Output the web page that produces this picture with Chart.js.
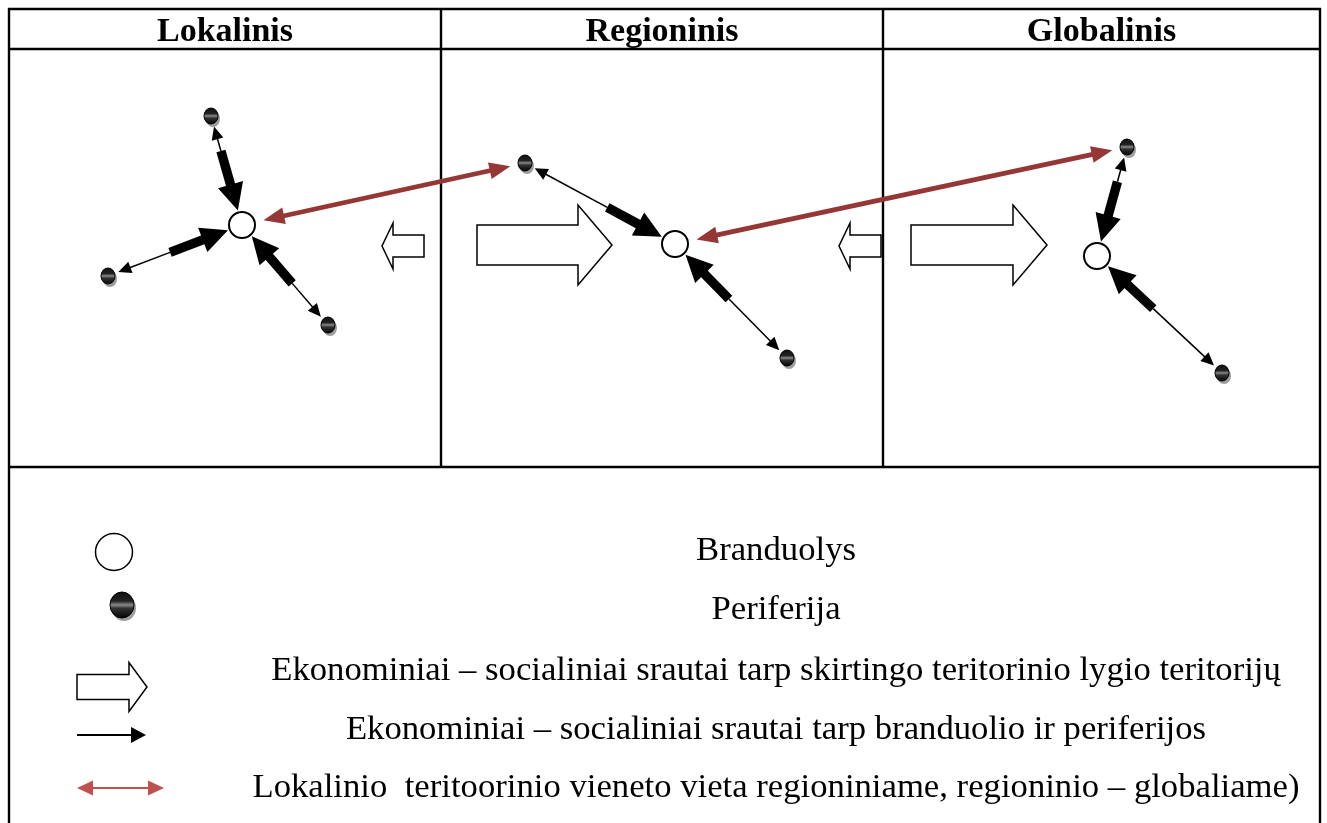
<!DOCTYPE html>
<html><head><meta charset="utf-8">
<script src="https://cdn.jsdelivr.net/npm/chart.js@4.4.1/dist/chart.umd.min.js"></script>
<style>html,body{margin:0;padding:0;background:#fff}#wrap{width:1327px;height:823px;position:relative}</style>
</head><body><div id="wrap"><canvas id="c"></canvas></div>
<script>
// ---- data ----
const panelTitles = ['Lokalinis', 'Regioninis', 'Globalinis'];
const coreX = [242, 675, 1097];
const coreY = [225, 244, 256];
const periX = [211, 108, 328, 525, 787, 1127, 1222];
const periY = [116, 276, 325, 163, 358, 147, 373];
const periCore = [0, 0, 0, 1, 1, 2, 2];
const linkFromCore = [0, 1];
const linkToPeri = [3, 5];
const legendLabels = [
  'Branduolys',
  'Periferija',
  'Ekonominiai – socialiniai srautai tarp skirtingo teritorinio lygio teritorijų',
  'Ekonominiai – socialiniai srautai tarp branduolio ir periferijos',
  'Lokalinio  teritoorinio vieneto vieta regioniniame, regioninio – globaliame)'
];

// ---- helpers ----
function sphere(rx, ry) {
  const pad = 5;
  const c = document.createElement('canvas');
  c.width = 2 * (rx + pad); c.height = 2 * (ry + pad);
  const g = c.getContext('2d');
  const cx = rx + pad, cy = ry + pad;
  g.fillStyle = 'rgba(140,140,140,0.85)';
  g.beginPath(); g.ellipse(cx + 2, cy + 3, rx, ry, 0, 0, Math.PI * 2); g.fill();
  const lg = g.createLinearGradient(0, cy - ry, 0, cy + ry);
  lg.addColorStop(0, '#111'); lg.addColorStop(0.35, '#222');
  lg.addColorStop(0.5, '#8a8a8a'); lg.addColorStop(0.62, '#333'); lg.addColorStop(1, '#050505');
  g.fillStyle = lg;
  g.beginPath(); g.ellipse(cx, cy, rx, ry, 0, 0, Math.PI * 2); g.fill();
  g.strokeStyle = '#000'; g.lineWidth = 1; g.stroke();
  return c;
}
const smallSphere = sphere(7, 8);
const bigSphere = sphere(12, 13);

function tri(ctx, tip, ux, uy, len, half) {
  const bx = tip.x - ux * len, by = tip.y - uy * len;
  ctx.beginPath();
  ctx.moveTo(tip.x, tip.y);
  ctx.lineTo(bx - uy * half, by + ux * half);
  ctx.lineTo(bx + uy * half, by - ux * half);
  ctx.closePath(); ctx.fill();
}
function flowArrow(ctx, P, C) {
  const dx = C.x - P.x, dy = C.y - P.y, L = Math.hypot(dx, dy), ux = dx / L, uy = dy / L;
  const sTip = { x: P.x + ux * 11, y: P.y + uy * 11 };
  const bTip = { x: C.x - ux * 15, y: C.y - uy * 15 };
  const tStart = { x: bTip.x - ux * 62, y: bTip.y - uy * 62 };
  ctx.fillStyle = '#000'; ctx.strokeStyle = '#000';
  ctx.lineWidth = 1.5;
  ctx.beginPath(); ctx.moveTo(sTip.x + ux * 10, sTip.y + uy * 10); ctx.lineTo(tStart.x, tStart.y); ctx.stroke();
  tri(ctx, sTip, -ux, -uy, 13, 6);
  const hb = { x: bTip.x - ux * 25, y: bTip.y - uy * 25 };
  const w = 4.7;
  ctx.beginPath();
  ctx.moveTo(tStart.x - uy * w, tStart.y + ux * w);
  ctx.lineTo(hb.x - uy * w, hb.y + ux * w);
  ctx.lineTo(hb.x + uy * w, hb.y - ux * w);
  ctx.lineTo(tStart.x + uy * w, tStart.y - ux * w);
  ctx.closePath(); ctx.fill();
  tri(ctx, bTip, ux, uy, 27, 13);
}
function doubleArrow(ctx, A, B, color, lw, hl, hh) {
  const dx = B.x - A.x, dy = B.y - A.y, L = Math.hypot(dx, dy), ux = dx / L, uy = dy / L;
  ctx.strokeStyle = color; ctx.fillStyle = color; ctx.lineWidth = lw;
  ctx.beginPath(); ctx.moveTo(A.x + ux * (hl - 2), A.y + uy * (hl - 2)); ctx.lineTo(B.x - ux * (hl - 2), B.y - uy * (hl - 2)); ctx.stroke();
  tri(ctx, A, -ux, -uy, hl, hh);
  tri(ctx, B, ux, uy, hl, hh);
}
function blockArrow(ctx, tailX, tipX, cy, bodyHalf, headHalf, headLen) {
  const d = Math.sign(tipX - tailX), baseX = tipX - d * headLen;
  ctx.beginPath();
  ctx.moveTo(tailX, cy - bodyHalf); ctx.lineTo(baseX, cy - bodyHalf); ctx.lineTo(baseX, cy - headHalf);
  ctx.lineTo(tipX, cy); ctx.lineTo(baseX, cy + headHalf); ctx.lineTo(baseX, cy + bodyHalf);
  ctx.lineTo(tailX, cy + bodyHalf); ctx.closePath();
  ctx.fillStyle = '#fff'; ctx.fill();
  ctx.strokeStyle = '#000'; ctx.lineWidth = 1.5; ctx.lineJoin = 'miter'; ctx.stroke();
}

const diagramPlugin = {
  id: 'diagram',
  beforeDatasetsDraw(chart) {
    const ctx = chart.ctx, xs = chart.scales.x, ys = chart.scales.y;
    const X = v => xs.getPixelForValue(v), Y = v => ys.getPixelForValue(v);
    ctx.save();
    ctx.fillStyle = '#fff'; ctx.fillRect(0, 0, chart.width, chart.height);
    ctx.strokeStyle = '#000'; ctx.lineWidth = 2.4;
    const hl = (y, x1, x2) => { ctx.beginPath(); ctx.moveTo(X(x1), Y(y)); ctx.lineTo(X(x2), Y(y)); ctx.stroke(); };
    const vl = (x, y1, y2) => { ctx.beginPath(); ctx.moveTo(X(x), Y(y1)); ctx.lineTo(X(x), Y(y2)); ctx.stroke(); };
    hl(9, 8, 1321); hl(49, 8, 1321); hl(467, 8, 1321);
    vl(9, 8, 823); vl(1320, 8, 823); vl(441, 8, 467); vl(883, 8, 467);
    ctx.fillStyle = '#000'; ctx.font = 'bold 34px "Liberation Serif"'; ctx.textAlign = 'center'; ctx.textBaseline = 'alphabetic';
    const cols = [9, 441, 883, 1320];
    panelTitles.forEach((t, i) => ctx.fillText(t, X((cols[i] + cols[i + 1]) / 2), Y(41)));
    // flows core<->periphery
    periX.forEach((px, i) => {
      const c = periCore[i];
      flowArrow(ctx, { x: X(px), y: Y(periY[i]) }, { x: X(coreX[c]), y: Y(coreY[c]) });
    });
    // position links (red)
    linkFromCore.forEach((c, i) => {
      const p = linkToPeri[i];
      const A = { x: X(coreX[c]), y: Y(coreY[c]) }, B = { x: X(periX[p]), y: Y(periY[p]) };
      const dx = B.x - A.x, dy = B.y - A.y, L = Math.hypot(dx, dy), ux = dx / L, uy = dy / L;
      doubleArrow(ctx, { x: A.x + ux * 22, y: A.y + uy * 22 }, { x: B.x - ux * 15, y: B.y - uy * 15 }, '#953735', 4.7, 21, 8.5);
    });
    // flows between levels (block arrows)
    blockArrow(ctx, X(424), X(382), Y(246), 11, 23, 11);
    blockArrow(ctx, X(881), X(839), Y(246), 11, 23, 11);
    blockArrow(ctx, X(477), X(612), Y(245), 20, 40, 34);
    blockArrow(ctx, X(911), X(1047), Y(245), 20, 40, 34);
    // legend symbols
    blockArrow(ctx, X(77), X(147), Y(687), 12.5, 24.5, 18);
    ctx.strokeStyle = '#000'; ctx.fillStyle = '#000'; ctx.lineWidth = 2;
    ctx.beginPath(); ctx.moveTo(X(77), Y(735)); ctx.lineTo(X(133), Y(735)); ctx.stroke();
    tri(ctx, { x: X(146), y: Y(735) }, 1, 0, 15, 8);
    doubleArrow(ctx, { x: X(77), y: Y(788) }, { x: X(164), y: Y(788) }, '#C0504D', 2, 16, 7.5);
    // legend text
    ctx.fillStyle = '#000'; ctx.font = '34.7px "Liberation Serif"'; ctx.textAlign = 'center';
    const base = [560, 619, 680, 739, 797];
    legendLabels.forEach((t, i) => ctx.fillText(t, X(776), Y(base[i])));
    ctx.restore();
  }
};

new Chart(document.getElementById('c'), {
  type: 'scatter',
  data: {
    datasets: [
      { label: 'Branduolys', data: coreX.map((x, i) => ({ x, y: coreY[i] })),
        pointRadius: 13, backgroundColor: '#fff', borderColor: '#000', borderWidth: 2 },
      { label: 'Periferija', data: periX.map((x, i) => ({ x, y: periY[i] })),
        pointStyle: smallSphere, pointRadius: 8 },
      { label: 'legend-core', data: [{ x: 114, y: 552 }],
        pointRadius: 18.5, backgroundColor: '#fff', borderColor: '#000', borderWidth: 1.5 },
      { label: 'legend-peri', data: [{ x: 122, y: 605 }],
        pointStyle: bigSphere, pointRadius: 12 }
    ]
  },
  options: {
    responsive: true, maintainAspectRatio: false, animation: false,
    layout: { padding: 0, autoPadding: false },
    events: [],
    scales: {
      x: { type: 'linear', min: 0, max: 1327, display: false },
      y: { type: 'linear', min: 0, max: 823, reverse: true, display: false }
    },
    plugins: { legend: { display: false }, tooltip: { enabled: false } }
  },
  plugins: [diagramPlugin]
});
</script>
</body></html>
